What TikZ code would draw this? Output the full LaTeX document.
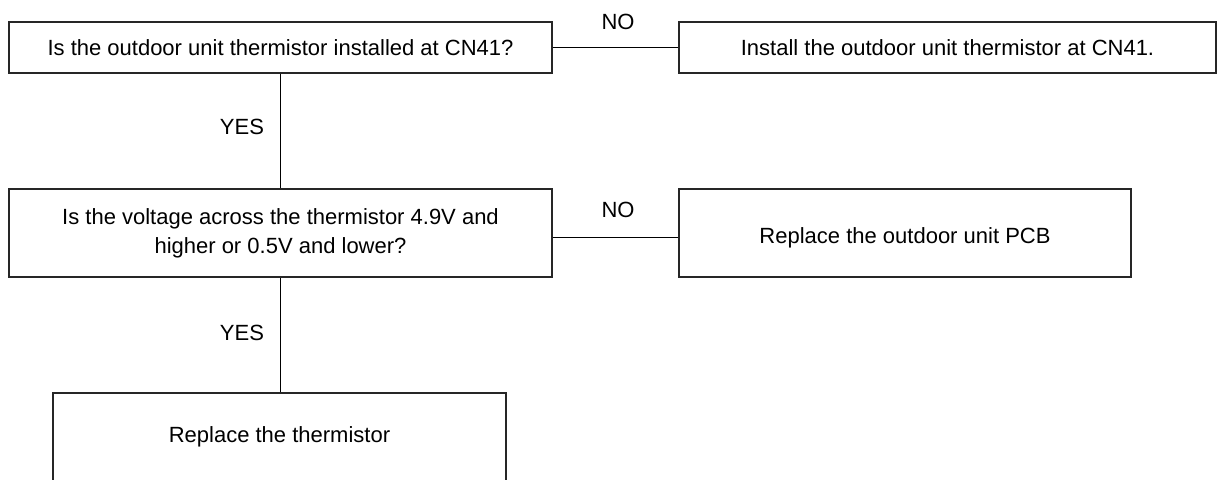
\documentclass[tikz,border=0pt]{standalone}
\usepackage{fontspec}
\setmainfont{Liberation Sans}
\begin{document}
\begin{tikzpicture}[x=1pt,y=-1pt,
  box/.style={draw=black!85,line width=1.3pt,align=center,inner sep=0pt,font=\fontsize{22}{29}\selectfont},
  lbl/.style={inner sep=0pt,font=\fontsize{22}{26}\selectfont},
  conn/.style={draw=black,line width=1pt}]
\clip (0,0) rectangle (1217,479);
\useasboundingbox (0,0) rectangle (1217,479);
\node[box,minimum width=543pt,minimum height=51pt] (b1) at (280.5,47.5) {Is the outdoor unit thermistor installed at CN41?};
\node[box,minimum width=537pt,minimum height=51pt] (b2) at (947.5,47.5) {Install the outdoor unit thermistor at CN41.};
\node[box,minimum width=543pt,minimum height=88pt] (b3) at (280.5,233) {Is the voltage across the thermistor 4.9V and\\higher or 0.5V and lower?};
\node[box,minimum width=452pt,minimum height=88pt] (b4) at (905,233) {\raisebox{-5pt}[\height][\depth]{Replace the outdoor unit PCB}};
\node[box,minimum width=453pt,minimum height=88pt] (b5) at (279.5,437) {Replace the thermistor};
\draw[conn] (b1.east) -- (b2.west);
\draw[conn] ([yshift=-4pt]b3.east) -- ([yshift=-4pt]b4.west);
\draw[conn] (b1.south) -- (b3.north);
\draw[conn] (b3.south) -- (b3.south |- b5.north);
\node[lbl] (no1) at (618,22) {NO};
\node[lbl] (no2) at (618,210) {NO};
\node[lbl] (yes1) at (242,127) {YES};
\node[lbl] (yes2) at (242,333) {YES};
\end{tikzpicture}
\end{document}
